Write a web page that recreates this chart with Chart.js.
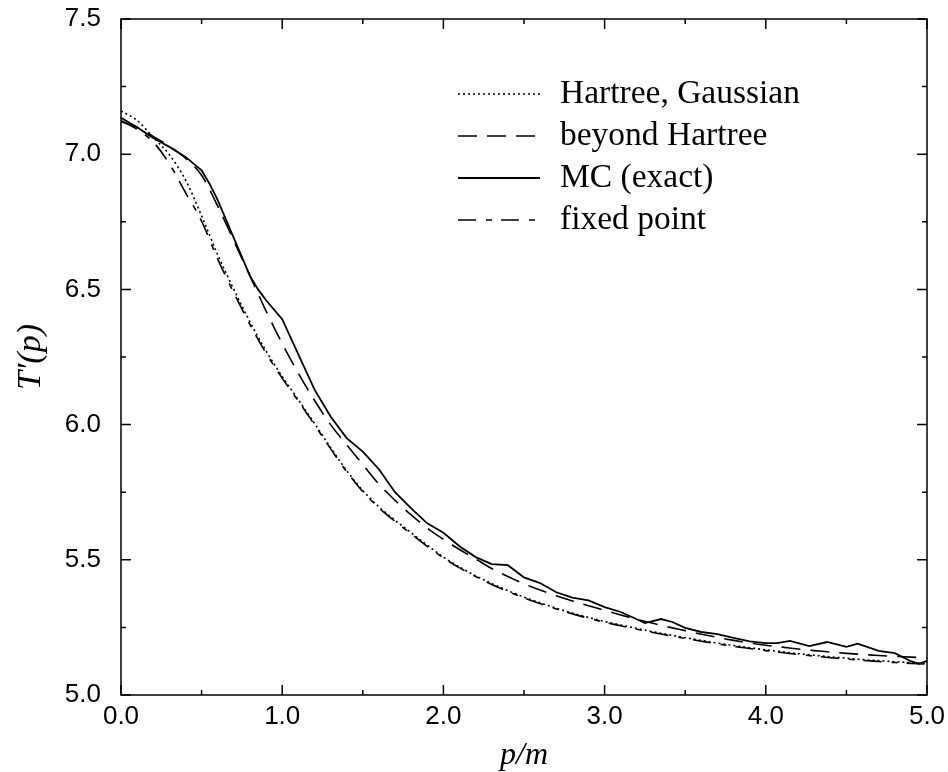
<!DOCTYPE html>
<html lang="en">
<head>
<meta charset="UTF-8">
<title>T'(p) vs p/m</title>
<script src="https://cdn.jsdelivr.net/npm/chart.js"></script>
<style>
  body { margin: 0; background: #fff; }
  canvas { display: block; }
</style>
</head>
<body>
<canvas id="chart" width="948" height="772"></canvas>
<script>
// p/m grid shared by the three smooth curves
const pGrid = [0.0, 0.1, 0.2, 0.3, 0.4, 0.5, 0.6, 0.7, 0.8, 0.9,
  1.0, 1.1, 1.2, 1.3, 1.4, 1.5, 1.6, 1.7, 1.8, 1.9,
  2.0, 2.1, 2.2, 2.3, 2.4, 2.5, 2.6, 2.7, 2.8, 2.9,
  3.0, 3.1, 3.2, 3.3, 3.4, 3.5, 3.6, 3.7, 3.8, 3.9,
  4.0, 4.1, 4.2, 4.3, 4.4, 4.5, 4.6, 4.7, 4.8, 4.9, 5.0];

const hartreeGaussian = [7.160, 7.125, 7.062, 6.998, 6.905, 6.772, 6.628, 6.500, 6.380, 6.272,
  6.178, 6.092, 6.005, 5.915, 5.830, 5.756, 5.696, 5.646, 5.600, 5.554,
  5.510, 5.473, 5.441, 5.412, 5.386, 5.362, 5.341, 5.321, 5.303, 5.287,
  5.272, 5.259, 5.246, 5.234, 5.223, 5.212, 5.202, 5.192, 5.183, 5.175,
  5.167, 5.160, 5.153, 5.147, 5.141, 5.136, 5.131, 5.127, 5.123, 5.120, 5.117];

const beyondHartree = [7.120, 7.100, 7.066, 7.030, 6.985, 6.922, 6.808, 6.680, 6.550, 6.420,
  6.300, 6.190, 6.090, 6.000, 5.925, 5.852, 5.780, 5.720, 5.666, 5.617,
  5.576, 5.538, 5.503, 5.468, 5.438, 5.411, 5.388, 5.367, 5.348, 5.330,
  5.313, 5.296, 5.280, 5.265, 5.251, 5.238, 5.225, 5.213, 5.202, 5.192,
  5.184, 5.177, 5.170, 5.164, 5.159, 5.154, 5.150, 5.146, 5.143, 5.140, 5.137];

const fixedPoint = [7.125, 7.092, 7.045, 6.965, 6.858, 6.752, 6.612, 6.487, 6.370, 6.264,
  6.172, 6.087, 6.000, 5.911, 5.826, 5.752, 5.692, 5.642, 5.596, 5.550,
  5.507, 5.470, 5.438, 5.409, 5.383, 5.359, 5.338, 5.318, 5.300, 5.284,
  5.269, 5.256, 5.243, 5.231, 5.220, 5.209, 5.199, 5.189, 5.180, 5.172,
  5.164, 5.157, 5.150, 5.144, 5.138, 5.133, 5.128, 5.124, 5.120, 5.117, 5.114];

// Monte Carlo data (noisy, own grid)
const mcP = [0.0, 0.1, 0.2, 0.3, 0.4, 0.5, 0.55, 0.6, 0.7, 0.8, 0.85, 0.9,
  1.0, 1.1, 1.2, 1.3, 1.4, 1.5, 1.6, 1.7, 1.8, 1.9,
  2.0, 2.1, 2.2, 2.3, 2.4, 2.5, 2.6, 2.7, 2.8, 2.9,
  3.0, 3.1, 3.2, 3.25, 3.35, 3.42, 3.5, 3.6, 3.7, 3.8, 3.9,
  4.0, 4.07, 4.15, 4.27, 4.38, 4.5, 4.57, 4.7, 4.8, 4.9, 4.95, 5.0];
const mcExact = [7.135, 7.100, 7.060, 7.027, 6.990, 6.940, 6.890, 6.830, 6.690, 6.550, 6.500, 6.460,
  6.390, 6.260, 6.130, 6.030, 5.950, 5.900, 5.835, 5.750, 5.690, 5.635,
  5.600, 5.550, 5.510, 5.484, 5.480, 5.435, 5.414, 5.380, 5.360, 5.350,
  5.325, 5.307, 5.280, 5.266, 5.281, 5.270, 5.248, 5.233, 5.225, 5.211, 5.198,
  5.192, 5.192, 5.200, 5.181, 5.196, 5.178, 5.190, 5.163, 5.155, 5.125, 5.115, 5.126];

const xTickLabels = ['0.0', '1.0', '2.0', '3.0', '4.0', '5.0'];
const yTickLabels = ['5.0', '5.5', '6.0', '6.5', '7.0', '7.5'];

const seriesNames = ['Hartree, Gaussian', 'beyond Hartree', 'MC (exact)', 'fixed point'];

function toPoints(xs, ys) {
  return xs.map((v, i) => ({ x: v, y: ys[i] }));
}

// frame, inward ticks on all four sides, and the legend box inside the plot
const frameAndTicks = {
  id: 'frameAndTicks',
  afterDatasetsDraw(chart) {
    const { ctx, chartArea: a, scales: { x, y } } = chart;
    ctx.save();
    ctx.strokeStyle = '#000';
    ctx.lineWidth = 1.5;
    ctx.setLineDash([]);
    ctx.strokeRect(a.left, a.top, a.right - a.left, a.bottom - a.top);

    ctx.beginPath();
    x.ticks.forEach(t => {
      const px = x.getPixelForValue(t.value);
      const len = Math.abs(t.value - Math.round(t.value)) < 1e-6 ? 10 : 5;
      ctx.moveTo(px, a.bottom); ctx.lineTo(px, a.bottom - len);
      ctx.moveTo(px, a.top); ctx.lineTo(px, a.top + len);
    });
    y.ticks.forEach(t => {
      const py = y.getPixelForValue(t.value);
      const len = Math.abs(t.value * 2 - Math.round(t.value * 2)) < 1e-6 ? 10 : 5;
      ctx.moveTo(a.left, py); ctx.lineTo(a.left + len, py);
      ctx.moveTo(a.right, py); ctx.lineTo(a.right - len, py);
    });
    ctx.stroke();

    // legend
    ctx.font = '33.5px "Liberation Serif", "Times New Roman", serif';
    ctx.textBaseline = 'middle';
    ctx.fillStyle = '#000';
    chart.data.datasets.forEach((ds, row) => {
      const ly = 94 + row * 42;
      ctx.beginPath();
      ctx.lineWidth = ds.borderWidth;
      ctx.setLineDash(ds.borderDash || []);
      ctx.moveTo(458, ly);
      ctx.lineTo(540, ly);
      ctx.stroke();
      ctx.fillText(ds.label, 560, ly);
    });
    ctx.restore();
  }
};

const ctx = document.getElementById('chart').getContext('2d');
new Chart(ctx, {
  type: 'scatter',
  data: {
    datasets: [
      {
        label: seriesNames[0],
        data: toPoints(pGrid, hartreeGaussian),
        borderColor: '#000',
        borderWidth: 1.6,
        borderDash: [2, 3],
        cubicInterpolationMode: 'monotone'
      },
      {
        label: seriesNames[1],
        data: toPoints(pGrid, beyondHartree),
        borderColor: '#000',
        borderWidth: 1.6,
        borderDash: [19, 10],
        cubicInterpolationMode: 'monotone'
      },
      {
        label: seriesNames[2],
        data: toPoints(mcP, mcExact),
        borderColor: '#000',
        borderWidth: 1.8,
        borderDash: []
      },
      {
        label: seriesNames[3],
        data: toPoints(pGrid, fixedPoint),
        borderColor: '#000',
        borderWidth: 1.6,
        borderDash: [18, 10, 6, 9],
        cubicInterpolationMode: 'monotone'
      }
    ]
  },
  options: {
    responsive: false,
    animation: false,
    showLine: true,
    devicePixelRatio: 1,
    layout: { padding: { left: 0, right: 21, top: 19, bottom: 0 } },
    elements: { point: { radius: 0, hoverRadius: 0 }, line: { fill: false } },
    plugins: { legend: { display: false }, tooltip: { enabled: false } },
    scales: {
      x: {
        type: 'linear',
        min: 0,
        max: 5,
        afterFit: s => { s.height = 77; s.paddingLeft = 0; s.paddingRight = 0; },
        grid: { display: false, drawTicks: false },
        border: { display: false },
        ticks: {
          stepSize: 0.5,
          autoSkip: false,
          maxRotation: 0,
          padding: 6,
          color: '#000',
          font: { family: '"Liberation Sans", Arial, sans-serif', size: 26 },
          callback: v => {
            const s = v.toFixed(1);
            return xTickLabels.includes(s) && Math.abs(v - Math.round(v)) < 1e-6 ? s : '';
          }
        },
        title: {
          display: true,
          text: 'p/m',
          color: '#000',
          padding: 0,
          font: { family: '"Liberation Serif", "Times New Roman", serif', style: 'italic', size: 32, lineHeight: 1 }
        }
      },
      y: {
        min: 5,
        max: 7.5,
        afterFit: s => { s.width = 121; s.paddingTop = 0; s.paddingBottom = 0; },
        grid: { display: false, drawTicks: false },
        border: { display: false },
        ticks: {
          stepSize: 0.25,
          autoSkip: false,
          padding: 20,
          color: '#000',
          font: { family: '"Liberation Sans", Arial, sans-serif', size: 26 },
          callback: v => {
            const s = v.toFixed(1);
            return yTickLabels.includes(s) && Math.abs(v * 2 - Math.round(v * 2)) < 1e-6 ? s : '';
          }
        },
        title: {
          display: true,
          text: 'T\u2032(p)',
          color: '#000',
          padding: { top: 14, bottom: 0 },
          font: { family: '"Liberation Serif", "Times New Roman", serif', style: 'italic', size: 34, lineHeight: 1 }
        }
      }
    }
  },
  plugins: [frameAndTicks]
});
</script>
</body>
</html>
